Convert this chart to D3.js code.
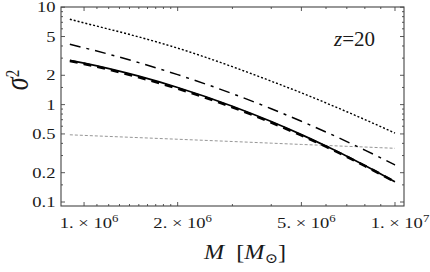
<!DOCTYPE html>
<html><head><meta charset="utf-8">
<script src="https://cdn.jsdelivr.net/npm/d3@7"></script>
<style>body{margin:0;background:#fff}svg{display:block}</style>
</head><body>
<svg id="c" width="430" height="272"></svg>
<script>
// ---- data ----
const masses = [0.9e6, 1e6, 1.5e6, 2e6, 3e6, 4e6, 5e6, 6e6, 7e6, 8e6, 9e6, 1e7];
const sigmaDotted  = [7.52, 6.90, 4.95, 3.80, 2.45, 1.74, 1.32, 1.04, 0.845, 0.702, 0.594, 0.51];
const sigmaDashDot = [4.16, 3.83, 2.70, 2.03, 1.295, 0.907, 0.674, 0.523, 0.417, 0.341, 0.284, 0.240];
const sigmaSolid   = [2.85, 2.67, 1.96, 1.50, 0.963, 0.670, 0.492, 0.375, 0.295, 0.237, 0.194, 0.161];
const sigmaDashed  = [2.80, 2.62, 1.91, 1.46, 0.940, 0.655, 0.483, 0.370, 0.292, 0.235, 0.193, 0.161];
const sigmaGray    = [0.490, 0.483, 0.458, 0.441, 0.418, 0.402, 0.390, 0.381, 0.373, 0.367, 0.361, 0.356];
const xTickValues = [1e6, 2e6, 5e6, 1e7];
const xTickMantissa = ["1.", "2.", "5.", "1."];
const xTickExponent = ["6", "6", "6", "7"];
const yTickValues = [0.1, 0.2, 0.5, 1, 2, 5, 10];
const yTickLabels = ["0.1", "0.2", "0.5", "1", "2", "5", "10"];
const redshiftLabel = "20";

// ---- layout ----
const svg = d3.select("#c");
const L = 61, R = 404, T = 7, B = 206;
const x = d3.scaleLog().domain([8.43e5, 1.069e7]).range([L, R]);
const y = d3.scaleLog().domain([0.0910, 10.05]).range([B, T]);
const SX = 1.28; // horizontal stretch of text in reference
const font = "Liberation Serif, DejaVu Serif, serif";
const frameColor = "#444";
const textColor = "#1a1a1a";

// minor ticks
const xMinor = [];
for (let m = 1.1; m < 1.95; m += 0.1) xMinor.push(m * 1e6);
[3, 4, 6, 7, 8, 9].forEach(m => xMinor.push(m * 1e6));
const yMinor = [0.3, 0.4, 0.6, 0.7, 0.8, 0.9, 3, 4, 6, 7, 8, 9, 0.15, 1.5];

// frame
svg.append("rect").attr("x", L).attr("y", T).attr("width", R - L).attr("height", B - T)
  .attr("fill", "none").attr("stroke", frameColor).attr("stroke-width", 1.1);

const ticks = svg.append("g").attr("stroke", frameColor).attr("stroke-width", 0.9);
function xTicks(vals, len) {
  vals.forEach(v => {
    const xx = x(v);
    ticks.append("line").attr("x1", xx).attr("x2", xx).attr("y1", B).attr("y2", B - len);
    ticks.append("line").attr("x1", xx).attr("x2", xx).attr("y1", T).attr("y2", T + len);
  });
}
function yTicks(vals, len) {
  vals.forEach(v => {
    const yy = y(v);
    ticks.append("line").attr("x1", L).attr("x2", L + len).attr("y1", yy).attr("y2", yy);
    ticks.append("line").attr("x1", R).attr("x2", R - len).attr("y1", yy).attr("y2", yy);
  });
}
xTicks(xTickValues, 4); xTicks(xMinor, 2);
yTicks(yTickValues, 4); yTicks(yMinor, 2);

// tick labels
function stretchedText(px, py, anchor, sx) {
  return svg.append("g").attr("transform", `translate(${px},${py}) scale(${sx || SX},1)`)
    .append("text").attr("text-anchor", anchor).attr("font-family", font).attr("fill", textColor);
}
yTickValues.forEach((v, i) => {
  stretchedText(55.5, y(v) + 5, "end").attr("font-size", 14.5).text(yTickLabels[i]);
});
xTickValues.forEach((v, i) => {
  const t = stretchedText(x(v) + 5, 227.5, "middle").attr("font-size", 14.5);
  t.append("tspan").text(xTickMantissa[i] + " \u00d7 10");
  t.append("tspan").attr("dy", -5.5).attr("font-size", 10).text(xTickExponent[i]);
});

// axis labels
const xl = stretchedText(245, 259, "middle", 1.15).attr("font-size", 21);
xl.append("tspan").attr("font-style", "italic").text("M");
xl.append("tspan").text("\u2002[");
xl.append("tspan").attr("font-style", "italic").text("M");
xl.append("tspan").attr("font-size", 14).attr("dy", 4).text("\u2299");
xl.append("tspan").attr("dy", -4).text("]");

const yl = svg.append("g").attr("transform", "translate(28,80) rotate(-90) scale(1,1.3)")
  .append("text").attr("text-anchor", "middle").attr("font-family", font).attr("fill", textColor)
  .attr("font-size", 26);
yl.append("tspan").attr("font-style", "italic").text("\u03c3");
yl.append("tspan").attr("font-size", 15).attr("dy", -7).text("2");

const zl = svg.append("text").attr("x", 334).attr("y", 46).attr("font-family", font)
  .attr("fill", textColor).attr("font-size", 21);
zl.append("tspan").attr("font-style", "italic").text("z");
zl.append("tspan").text("=" + redshiftLabel);

// curves
const line = d3.line().x(d => x(d[0])).y(d => y(d[1])).curve(d3.curveMonotoneX);
const series = [
  { v: sigmaGray, color: "#8a8a8a", w: 0.9, dash: "3,2" },
  { v: sigmaDotted, color: "#000", w: 1.4, dash: "2,2" },
  { v: sigmaDashDot, color: "#000", w: 1.5, dash: "11,6,3,6" },
  { v: sigmaDashed, color: "#000", w: 2.6, dash: "8,6" },
  { v: sigmaSolid, color: "#000", w: 1.7, dash: null },
];
svg.append("clipPath").attr("id", "pc").append("rect")
  .attr("x", L).attr("y", T).attr("width", R - L).attr("height", B - T);
series.forEach(s => {
  svg.append("path").datum(masses.map((m, i) => [m, s.v[i]]))
    .attr("d", line).attr("fill", "none").attr("stroke", s.color)
    .attr("stroke-width", s.w).attr("stroke-dasharray", s.dash)
    .attr("clip-path", "url(#pc)");
});
</script>
</body></html>
